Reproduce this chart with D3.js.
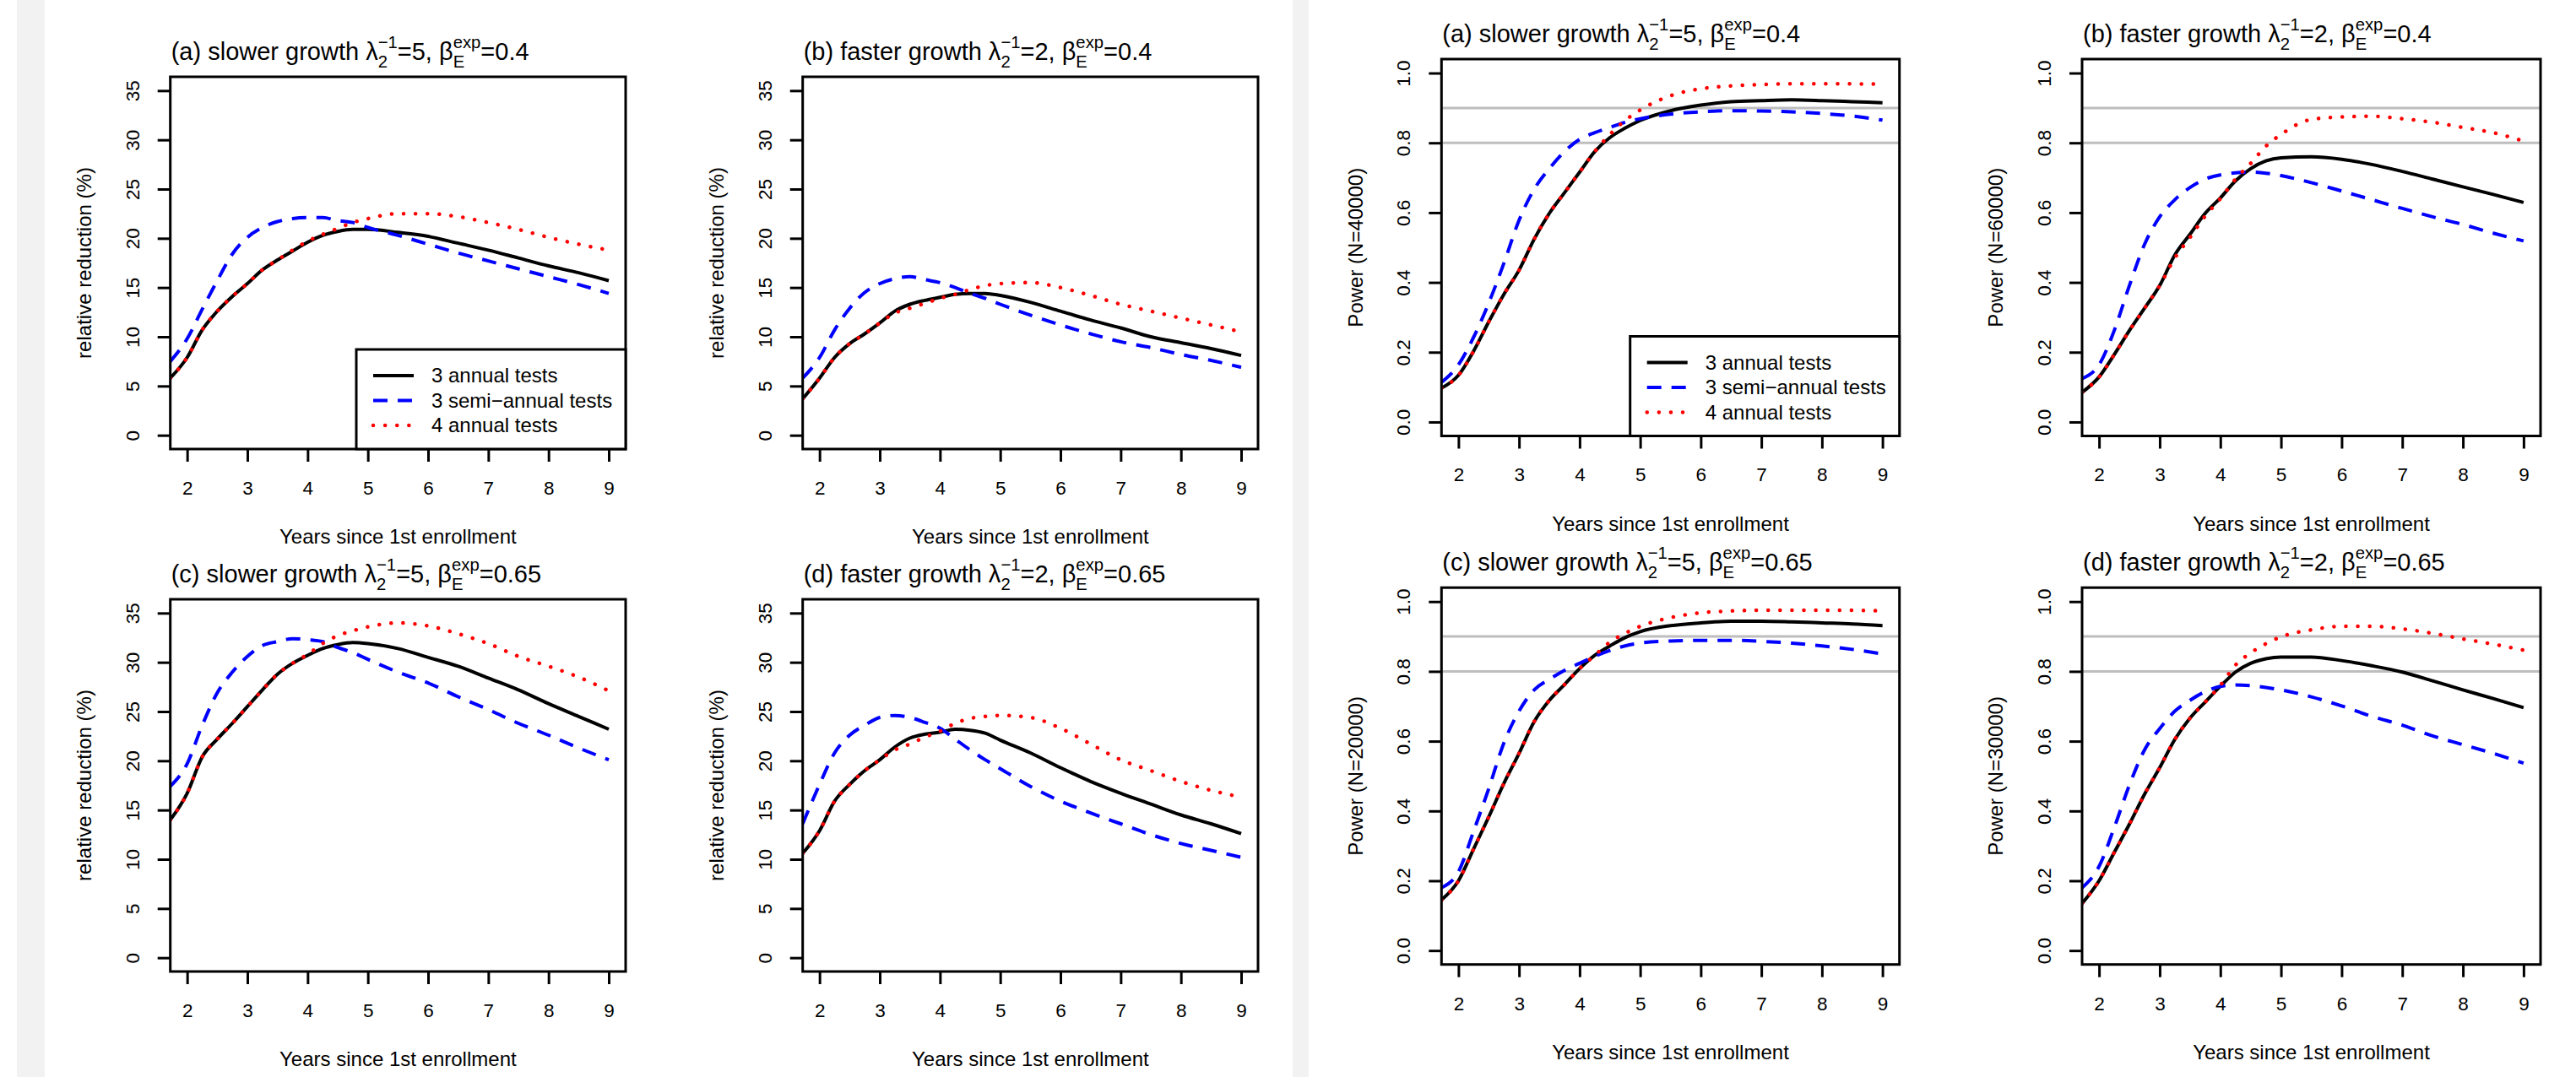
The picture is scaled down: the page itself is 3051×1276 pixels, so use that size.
<!DOCTYPE html>
<meta charset="utf-8" />
<title>Relative reduction and power by screening schedule</title>
<style>
  body {
    margin: 0;
    background: #fff;
  }
  svg {
    display: block;
    font-family: "Liberation Sans", Arial, Helvetica, sans-serif;
  }
  .strip {
    fill: #f2f2f2;
  }
  .frame {
    fill: none;
    stroke: #000;
    stroke-width: 3px;
  }
  .axis .domain {
    display: none;
  }
  .axis line {
    stroke: #000;
    stroke-width: 3px;
  }
  .axis text {
    font-size: 22.5px;
    fill: #000;
  }
  .lab {
    font-size: 24px;
    fill: #000;
  }
  .title text {
    fill: #000;
  }
  .refline {
    stroke: #bebebe;
    stroke-width: 3px;
  }
  .legend rect {
    fill: #fff;
    stroke: #000;
    stroke-width: 3px;
  }
  .legend text {
    font-size: 24px;
  }
</style>

<body>
  <svg width="3051" height="1276"></svg>

  <script src="https://d3js.org/d3.v7.min.js"></script>
  <script>
    // x grid (years since 1st enrollment)
    const years = [1.72, 2, 2.25, 2.5, 2.75, 3, 3.25, 3.5, 3.75, 4, 4.25, 4.5, 4.75, 5, 5.5, 6, 6.5, 7, 7.5, 8, 8.5, 9];

    const xTicks = [2, 3, 4, 5, 6, 7, 8, 9];
    const rrTicks = [0, 5, 10, 15, 20, 25, 30, 35];
    const powerTicks = [0, 0.2, 0.4, 0.6, 0.8, 1.0];
    const powerRefs = [0.8, 0.9];

    const seriesNames = ["3 annual tests", "3 semi\u2212annual tests", "4 annual tests"];

    // relative reduction (%)
    const rrA_ann3 = [5.8, 7.9, 10.7, 12.6, 14.1, 15.4, 16.8, 17.8, 18.7, 19.6, 20.3, 20.7, 20.9, 20.9, 20.6, 20.2, 19.5, 18.8, 18.0, 17.2, 16.5, 15.7];
    const rrA_semi3 = [7.5, 9.8, 12.8, 15.7, 18.4, 20.1, 21.1, 21.7, 22.0, 22.1, 22.1, 21.8, 21.6, 21.1, 20.3, 19.4, 18.5, 17.7, 16.9, 16.1, 15.3, 14.4];
    const rrA_ann4 = [5.8, 7.9, 10.7, 12.6, 14.1, 15.4, 16.8, 17.8, 18.8, 19.7, 20.4, 21.0, 21.6, 22.0, 22.5, 22.5, 22.2, 21.6, 20.9, 20.1, 19.4, 18.8];

    const rrB_ann3 = [3.7, 5.8, 7.9, 9.3, 10.3, 11.4, 12.6, 13.3, 13.7, 14.0, 14.3, 14.4, 14.4, 14.2, 13.5, 12.6, 11.7, 10.9, 10.0, 9.4, 8.8, 8.1];
    const rrB_semi3 = [5.8, 7.9, 10.7, 12.9, 14.5, 15.4, 15.9, 16.1, 15.8, 15.5, 15.0, 14.4, 13.9, 13.3, 12.2, 11.2, 10.3, 9.5, 8.9, 8.2, 7.6, 6.9];
    const rrB_ann4 = [3.7, 5.8, 7.9, 9.3, 10.3, 11.4, 12.4, 12.9, 13.4, 13.9, 14.3, 14.8, 15.2, 15.4, 15.5, 15.0, 14.2, 13.3, 12.6, 11.9, 11.2, 10.5];

    const rrC_ann3 = [14.0, 16.7, 20.4, 22.2, 23.8, 25.5, 27.2, 28.8, 29.9, 30.7, 31.4, 31.8, 32.0, 31.9, 31.4, 30.5, 29.6, 28.4, 27.2, 25.8, 24.5, 23.2];
    const rrC_semi3 = [17.4, 19.7, 23.6, 26.9, 29.0, 30.6, 31.7, 32.1, 32.4, 32.3, 32.1, 31.5, 31.0, 30.3, 29.0, 27.9, 26.5, 25.2, 23.8, 22.6, 21.3, 20.1];
    const rrC_ann4 = [14.0, 16.7, 20.4, 22.2, 23.8, 25.5, 27.2, 28.8, 29.9, 30.8, 31.9, 32.7, 33.2, 33.6, 34.0, 33.7, 32.9, 31.9, 30.6, 29.6, 28.5, 27.1];

    const rrD_ann3 = [10.6, 12.9, 15.9, 17.6, 19.0, 20.1, 21.4, 22.3, 22.7, 22.9, 23.2, 23.1, 22.8, 22.1, 20.8, 19.3, 17.9, 16.7, 15.6, 14.5, 13.6, 12.6];
    const rrD_semi3 = [13.6, 17.6, 20.8, 22.6, 23.6, 24.4, 24.6, 24.4, 23.9, 23.3, 22.2, 21.1, 20.1, 19.2, 17.4, 15.9, 14.7, 13.6, 12.5, 11.6, 10.9, 10.2];
    const rrD_ann4 = [10.6, 12.9, 15.9, 17.6, 19.0, 20.1, 21.1, 21.7, 22.4, 23.0, 23.8, 24.3, 24.5, 24.6, 24.4, 23.3, 21.7, 20.1, 19.0, 17.9, 17.0, 16.3];

    // power
    const pwA_ann3 = [0.097, 0.134, 0.203, 0.287, 0.366, 0.435, 0.524, 0.598, 0.657, 0.716, 0.775, 0.815, 0.842, 0.864, 0.892, 0.908, 0.918, 0.921, 0.923, 0.921, 0.918, 0.915];
    const pwA_semi3 = [0.114, 0.164, 0.243, 0.341, 0.455, 0.578, 0.667, 0.726, 0.775, 0.810, 0.829, 0.844, 0.859, 0.869, 0.882, 0.889, 0.892, 0.891, 0.889, 0.884, 0.877, 0.865];
    const pwA_ann4 = [0.097, 0.134, 0.203, 0.287, 0.366, 0.435, 0.524, 0.598, 0.657, 0.716, 0.775, 0.824, 0.864, 0.894, 0.935, 0.955, 0.963, 0.967, 0.969, 0.969, 0.969, 0.968];

    const pwB_ann3 = [0.085, 0.129, 0.193, 0.262, 0.326, 0.391, 0.479, 0.538, 0.598, 0.642, 0.691, 0.726, 0.748, 0.757, 0.760, 0.753, 0.738, 0.718, 0.696, 0.674, 0.652, 0.629];
    const pwB_semi3 = [0.124, 0.164, 0.262, 0.391, 0.509, 0.588, 0.637, 0.672, 0.696, 0.708, 0.714, 0.716, 0.713, 0.706, 0.686, 0.662, 0.637, 0.612, 0.588, 0.566, 0.541, 0.519];
    const pwB_ann4 = [0.085, 0.129, 0.193, 0.262, 0.326, 0.391, 0.470, 0.529, 0.590, 0.640, 0.696, 0.741, 0.790, 0.824, 0.867, 0.874, 0.876, 0.869, 0.859, 0.844, 0.829, 0.805];

    const pwC_ann3 = [0.145, 0.200, 0.291, 0.383, 0.479, 0.565, 0.656, 0.717, 0.762, 0.808, 0.846, 0.873, 0.897, 0.914, 0.931, 0.939, 0.944, 0.944, 0.942, 0.939, 0.936, 0.931];
    const pwC_semi3 = [0.180, 0.226, 0.342, 0.464, 0.595, 0.686, 0.747, 0.777, 0.803, 0.823, 0.843, 0.860, 0.873, 0.881, 0.887, 0.889, 0.889, 0.886, 0.881, 0.873, 0.863, 0.850];
    const pwC_ann4 = [0.145, 0.200, 0.291, 0.383, 0.479, 0.565, 0.656, 0.717, 0.762, 0.808, 0.846, 0.884, 0.909, 0.929, 0.954, 0.968, 0.973, 0.975, 0.975, 0.975, 0.975, 0.973];

    const pwD_ann3 = [0.135, 0.200, 0.281, 0.362, 0.448, 0.524, 0.605, 0.666, 0.712, 0.757, 0.798, 0.823, 0.836, 0.841, 0.841, 0.831, 0.816, 0.798, 0.773, 0.747, 0.722, 0.696];
    const pwD_semi3 = [0.180, 0.241, 0.352, 0.474, 0.575, 0.636, 0.686, 0.717, 0.742, 0.757, 0.761, 0.759, 0.754, 0.747, 0.727, 0.701, 0.671, 0.646, 0.615, 0.590, 0.565, 0.537];
    const pwD_ann4 = [0.135, 0.200, 0.281, 0.362, 0.448, 0.524, 0.605, 0.666, 0.712, 0.760, 0.818, 0.853, 0.879, 0.899, 0.919, 0.929, 0.929, 0.922, 0.909, 0.893, 0.878, 0.861];

    const svg = d3.select("svg");

    // line styles: solid black, dashed blue, dotted red
    const styles = [
      { color: "#000", width: 4, dash: null, cap: "butt" },
      { color: "#0000ff", width: 4, dash: "17,12", cap: "butt" },
      { color: "#ff0000", width: 4.5, dash: "0.1,14", cap: "round" }
    ];

    const kinds = {
      rr: { domain: [-1.4, 36.4], ticks: rrTicks, fmt: d => d, refs: [] },
      power: { domain: [-0.04, 1.04], ticks: powerTicks, fmt: d3.format(".1f"), refs: powerRefs }
    };

    const panels = [
      { x0: 201.7, y0: 91, w: 539.3, h: 441, kind: "rr", t: ["a", "slower", 5, "0.4"], ylab: "relative reduction (%)", s: [rrA_ann3, rrA_semi3, rrA_ann4], legend: true },
      { x0: 950.7, y0: 91, w: 539.3, h: 441, kind: "rr", t: ["b", "faster", 2, "0.4"], ylab: "relative reduction (%)", s: [rrB_ann3, rrB_semi3, rrB_ann4] },
      { x0: 201.7, y0: 710, w: 539.3, h: 441, kind: "rr", t: ["c", "slower", 5, "0.65"], ylab: "relative reduction (%)", s: [rrC_ann3, rrC_semi3, rrC_ann4] },
      { x0: 950.7, y0: 710, w: 539.3, h: 441, kind: "rr", t: ["d", "faster", 2, "0.65"], ylab: "relative reduction (%)", s: [rrD_ann3, rrD_semi3, rrD_ann4] },
      { x0: 1707.3, y0: 70, w: 542.4, h: 446.5, kind: "power", t: ["a", "slower", 5, "0.4"], ylab: "Power (N=40000)", s: [pwA_ann3, pwA_semi3, pwA_ann4], legend: true },
      { x0: 2466, y0: 70, w: 543, h: 446.5, kind: "power", t: ["b", "faster", 2, "0.4"], ylab: "Power (N=60000)", s: [pwB_ann3, pwB_semi3, pwB_ann4] },
      { x0: 1707.3, y0: 696.2, w: 542.4, h: 446.5, kind: "power", t: ["c", "slower", 5, "0.65"], ylab: "Power (N=20000)", s: [pwC_ann3, pwC_semi3, pwC_ann4] },
      { x0: 2466, y0: 696.2, w: 543, h: 446.5, kind: "power", t: ["d", "faster", 2, "0.65"], ylab: "Power (N=30000)", s: [pwD_ann3, pwD_semi3, pwD_ann4] }
    ];

    // page background strips
    svg.append("rect").attr("class", "strip").attr("x", 20).attr("y", 0).attr("width", 33).attr("height", 1276);
    svg.append("rect").attr("class", "strip").attr("x", 1531).attr("y", 0).attr("width", 19).attr("height", 1276);

    // title with stacked sub/superscripts, like R plotmath
    function mathTitle(g, x, y, letter, speed, lam, beta) {
      const fs = 29, small = fs * 0.7;
      const t = g.append("g").attr("class", "title");
      let cx = x;
      const put = (str, size, dy) => t.append("text")
        .attr("x", cx).attr("y", y + dy)
        .style("font-size", size + "px")
        .text(str).node().getComputedTextLength();
      cx += put(`(${letter}) ${speed} growth \u03bb`, fs, 0);
      cx += Math.max(put("2", small, 0.3 * fs), put("\u22121", small, -0.48 * fs));
      cx += put(`=${lam}, \u03b2`, fs, 0);
      cx += Math.max(put("E", small, 0.3 * fs), put("exp", small, -0.48 * fs));
      put(`=${beta}`, fs, 0);
    }

    panels.forEach((p, i) => {
      const k = kinds[p.kind];
      const x = d3.scaleLinear().domain([1.72, 9.28]).range([p.x0, p.x0 + p.w]);
      const y = d3.scaleLinear().domain(k.domain).range([p.y0 + p.h, p.y0]);
      const g = svg.append("g").attr("class", "panel");

      g.append("clipPath").attr("id", "clip" + i)
        .append("rect").attr("x", p.x0).attr("y", p.y0).attr("width", p.w).attr("height", p.h);

      // reference lines at 80% and 90% power
      g.selectAll("line.refline")
        .data(k.refs)
        .enter()
        .append("line")
        .attr("class", "refline")
        .attr("x1", p.x0).attr("x2", p.x0 + p.w)
        .attr("y1", d => y(d)).attr("y2", d => y(d));

      const line = d3.line()
        .x((d, j) => x(years[j]))
        .y(d => y(d))
        .curve(d3.curveMonotoneX);

      g.append("g").attr("clip-path", `url(#clip${i})`)
        .selectAll("path")
        .data(p.s)
        .enter()
        .append("path")
        .attr("d", d => line(d))
        .attr("fill", "none")
        .attr("stroke", (d, j) => styles[j].color)
        .attr("stroke-width", (d, j) => styles[j].width)
        .attr("stroke-dasharray", (d, j) => styles[j].dash)
        .attr("stroke-linecap", (d, j) => styles[j].cap);

      // axes
      g.append("g")
        .attr("class", "axis")
        .attr("transform", `translate(0,${p.y0 + p.h})`)
        .call(d3.axisBottom(x).tickValues(xTicks).tickSize(15).tickPadding(23).tickFormat(d => d));

      const ya = g.append("g")
        .attr("class", "axis")
        .attr("transform", `translate(${p.x0},0)`)
        .call(d3.axisLeft(y).tickValues(k.ticks).tickSize(15).tickFormat(k.fmt));
      ya.selectAll("text")
        .attr("transform", "rotate(-90)")
        .attr("x", 0).attr("y", -45)
        .attr("dy", "0.35em")
        .attr("text-anchor", "middle");

      g.append("rect").attr("class", "frame")
        .attr("x", p.x0).attr("y", p.y0).attr("width", p.w).attr("height", p.h);

      // axis titles
      g.append("text").attr("class", "lab")
        .attr("x", p.x0 + p.w / 2).attr("y", p.y0 + p.h + 112)
        .attr("text-anchor", "middle")
        .text("Years since 1st enrollment");
      g.append("text").attr("class", "lab")
        .attr("transform", `translate(${p.x0 - 102},${p.y0 + p.h / 2}) rotate(-90)`)
        .attr("dy", "0.35em")
        .attr("text-anchor", "middle")
        .text(p.ylab);

      mathTitle(g, p.x0 + 1, p.y0 - 20, ...p.t);

      if (p.legend) {
        const lw = 319, lh = 118;
        const lx = p.x0 + p.w - lw, ly = p.y0 + p.h - lh;
        const lg = g.append("g").attr("class", "legend");
        lg.append("rect").attr("x", lx).attr("y", ly).attr("width", lw).attr("height", lh);
        const row = lg.selectAll("g.row")
          .data(seriesNames)
          .enter()
          .append("g")
          .attr("class", "row")
          .attr("transform", (d, j) => `translate(${lx},${ly + 31 + j * 29.5})`);
        row.append("line")
          .attr("x1", 20).attr("x2", 68)
          .attr("stroke", (d, j) => styles[j].color)
          .attr("stroke-width", (d, j) => styles[j].width)
          .attr("stroke-dasharray", (d, j) => styles[j].dash)
          .attr("stroke-linecap", (d, j) => styles[j].cap);
        row.append("text")
          .attr("x", 89).attr("dy", "0.35em")
          .text(d => d);
      }
    });
  </script>
</body>
